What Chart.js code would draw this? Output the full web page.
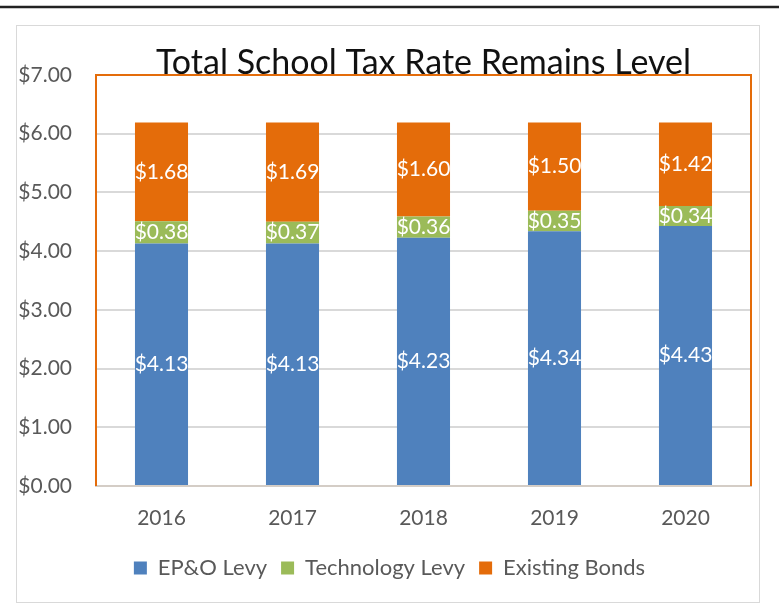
<!DOCTYPE html>
<html lang="en">
<head>
    <meta charset="UTF-8">
    <title>Total School Tax Rate Remains Level</title>
    <script src="https://cdn.jsdelivr.net/npm/chart.js"></script>
    <style>
        html, body { margin: 0; padding: 0; background: #ffffff; }
        #wrap { position: relative; width: 779px; height: 608px; }
    </style>
</head>
<body>
<div id="wrap">
    <canvas id="taxChart" width="779" height="608"></canvas>
</div>

<script>
    // chart data
    const years = ['2016', '2017', '2018', '2019', '2020'];
    const epoLevy = [4.13, 4.13, 4.23, 4.34, 4.43];
    const techLevy = [0.38, 0.37, 0.36, 0.35, 0.34];
    const existingBonds = [1.68, 1.69, 1.60, 1.50, 1.42];
    const seriesNames = ['EP&O Levy', 'Technology Levy', 'Existing Bonds'];
    const seriesColors = ['#4F81BD', '#9BBB59', '#E46C0A'];
    const chartTitle = 'Total School Tax Rate Remains Level';
    const yMin = 0, yMax = 7, yStep = 1;

    const FONT = 'Lato, "Open Sans", sans-serif';

    // frame, plot border and title
    const decorPlugin = {
        id: 'decor',
        beforeDraw(chart) {
            const c = chart.ctx;
            c.save();
            c.fillStyle = '#ffffff';
            c.fillRect(0, 0, chart.width, chart.height);
            c.strokeStyle = '#222222';
            c.lineWidth = 2.5;
            c.beginPath();
            c.moveTo(0, 7);
            c.lineTo(chart.width, 7);
            c.stroke();
            c.strokeStyle = '#d9d9d9';
            c.lineWidth = 1;
            c.strokeRect(16.5, 25.5, 743, 577);
            c.restore();
        },
        beforeDatasetsDraw(chart) {
            const a = chart.chartArea;
            const c = chart.ctx;
            c.save();
            c.strokeStyle = '#E46C0A';
            c.lineWidth = 2;
            c.beginPath();
            c.moveTo(a.left, a.bottom);
            c.lineTo(a.left, a.top);
            c.lineTo(a.right, a.top);
            c.lineTo(a.right, a.bottom);
            c.stroke();
            c.restore();
        },
        afterDraw(chart) {
            const a = chart.chartArea;
            const c = chart.ctx;
            c.save();
            c.fillStyle = '#111111';
            c.font = '34px ' + FONT;
            c.textAlign = 'center';
            c.textBaseline = 'alphabetic';
            c.fillText(chartTitle, (a.left + a.right) / 2, a.top - 1);
            c.restore();
        }
    };

    // value labels inside each segment
    const valueLabels = {
        id: 'valueLabels',
        afterDatasetsDraw(chart) {
            const c = chart.ctx;
            c.save();
            c.fillStyle = '#ffffff';
            c.font = '21px ' + FONT;
            c.textAlign = 'center';
            c.textBaseline = 'middle';
            chart.data.datasets.forEach((ds, i) => {
                chart.getDatasetMeta(i).data.forEach((bar, j) => {
                    const yMid = (bar.y + bar.base) / 2;
                    c.fillText('$' + ds.data[j].toFixed(2), bar.x, yMid);
                });
            });
            c.restore();
        }
    };

    const ctx = document.getElementById('taxChart').getContext('2d');
    const taxChart = new Chart(ctx, {
        type: 'bar',
        data: {
            labels: years,
            datasets: [
                { label: seriesNames[0], data: epoLevy, backgroundColor: seriesColors[0] },
                { label: seriesNames[1], data: techLevy, backgroundColor: seriesColors[1] },
                { label: seriesNames[2], data: existingBonds, backgroundColor: seriesColors[2] }
            ]
        },
        options: {
            responsive: false,
            animation: false,
            barPercentage: 0.405,
            categoryPercentage: 1,
            layout: { padding: { top: 75, left: 0, right: 0, bottom: 19 } },
            scales: {
                x: {
                    stacked: true,
                    grid: { display: false, drawTicks: false },
                    border: { color: '#d4cdc6', width: 2 },
                    ticks: { color: '#595959', font: { family: FONT, size: 21 }, padding: 20 },
                    afterFit(s) { s.height = 57; }
                },
                y: {
                    stacked: true,
                    min: yMin,
                    max: yMax,
                    ticks: {
                        stepSize: yStep,
                        color: '#595959',
                        font: { family: FONT, size: 21 },
                        padding: 24,
                        callback: v => '$' + v.toFixed(2)
                    },
                    grid: { color: '#d9d9d9', lineWidth: 2, drawTicks: false },
                    border: { display: false },
                    afterFit(s) { s.width = 96; }
                },
                yRight: {
                    position: 'right',
                    min: yMin,
                    max: yMax,
                    grid: { display: false, drawTicks: false },
                    border: { display: false },
                    ticks: { display: false },
                    afterFit(s) { s.width = 28; }
                }
            },
            plugins: {
                legend: {
                    position: 'bottom',
                    labels: {
                        boxWidth: 13,
                        boxHeight: 13,
                        padding: 14,
                        color: '#595959',
                        font: { family: FONT, size: 22 }
                    }
                },
                tooltip: { enabled: false }
            }
        },
        plugins: [decorPlugin, valueLabels]
    });
</script>
</body>
</html>
